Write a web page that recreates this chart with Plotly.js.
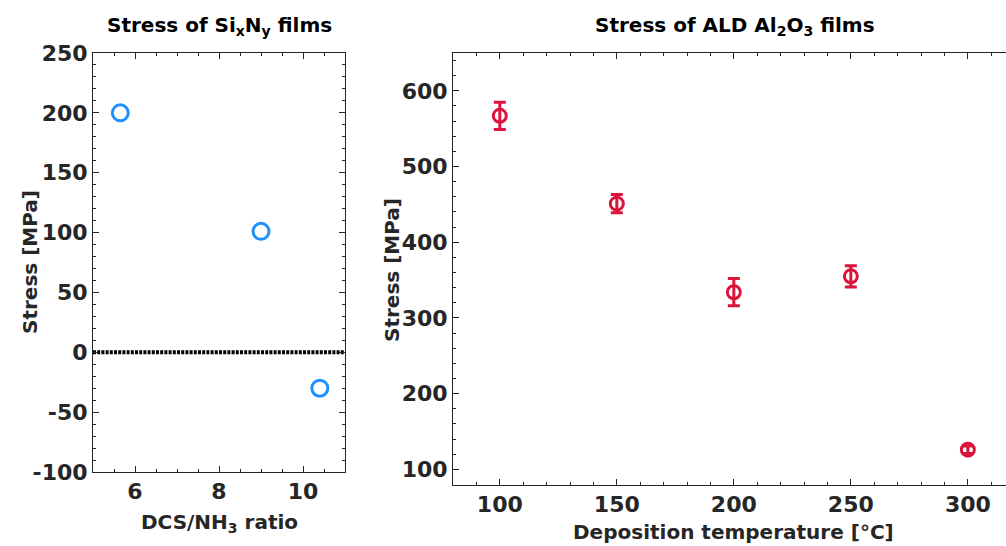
<!DOCTYPE html>
<html>
<head>
<meta charset="utf-8">
<script src="https://cdn.plot.ly/plotly-2.35.2.min.js"></script>
<style>
html,body{margin:0;padding:0;background:#fff;}
#chart{width:1006px;height:546px;}
</style>
</head>
<body>
<div id="chart"></div>
<script>
// Left panel: SixNy film stress
const sinRatio = [5.65, 9.0, 10.4];
const sinStress = [200, 101, -30];
const zeroLineX = [5, 11];
const zeroLineY = [0, 0];
const sinXTicks = [6, 8, 10];
const sinYTicks = [-100, -50, 0, 50, 100, 150, 200, 250];
const sinYTickText = ['-100', '-50', '0', '50', '100', '150', '200', '250'];

// Right panel: ALD Al2O3 film stress
const alTemp = [100, 150, 200, 250, 300];
const alStress = [567, 451, 334, 355, 126];
const alError = [18, 12, 18, 14, 5];
const alXTicks = [100, 150, 200, 250, 300];
const alYTicks = [100, 200, 300, 400, 500, 600];

const FONT = '"DejaVu Sans", sans-serif';
const TICKCOL = '#262626';
const tickFont = {family: FONT, size: 22, color: TICKCOL, weight: 'bold'};
const titleFont = {family: FONT, size: 20, color: TICKCOL, weight: 'bold'};

const traces = [
  {
    x: zeroLineX, y: zeroLineY, xaxis: 'x', yaxis: 'y', type: 'scatter', mode: 'lines',
    line: {color: '#000', width: 4, dash: '3px,1.2px'}, hoverinfo: 'skip', showlegend: false
  },
  {
    x: sinRatio, y: sinStress, xaxis: 'x', yaxis: 'y', type: 'scatter', mode: 'markers',
    marker: {symbol: 'circle-open', size: 16, color: 'rgb(30,144,255)', line: {width: 3, color: 'rgb(30,144,255)'}},
    showlegend: false
  },
  {
    x: alTemp, y: alStress, xaxis: 'x2', yaxis: 'y2', type: 'scatter', mode: 'markers',
    error_y: {type: 'data', array: alError, visible: true, color: 'rgb(220,20,60)', thickness: 3, width: 6},
    marker: {symbol: 'circle-open', size: 13, color: 'rgb(220,20,60)', line: {width: 3, color: 'rgb(220,20,60)'}},
    showlegend: false
  }
];

function axisBase() {
  return {
    showgrid: false, zeroline: false, showline: true, linecolor: TICKCOL, linewidth: 1,
    ticks: 'inside', ticklen: 6, tickwidth: 1, tickcolor: TICKCOL,
    tickfont: tickFont, mirror: 'allticks'
  };
}

const layout = {
  width: 1006, height: 546,
  margin: {l: 0, r: 0, t: 0, b: 0},
  paper_bgcolor: '#fff', plot_bgcolor: '#fff',
  showlegend: false,
  xaxis: Object.assign(axisBase(), {
    domain: [93/1006, 345/1006], range: [5, 11], tickvals: sinXTicks, anchor: 'y',
    minor: {dtick: 0.5, ticks: 'inside', ticklen: 3, tickcolor: TICKCOL}
  }),
  yaxis: Object.assign(axisBase(), {
    domain: [(546-472)/546, (546-53)/546], range: [-100, 250], tickvals: sinYTicks, ticktext: sinYTickText, anchor: 'x',
    minor: {dtick: 10, ticks: 'inside', ticklen: 3, tickcolor: TICKCOL}
  }),
  xaxis2: Object.assign(axisBase(), {
    domain: [453/1006, 1], range: [80, 316.3], tickvals: alXTicks, anchor: 'y2',
    minor: {dtick: 10, ticks: 'inside', ticklen: 3, tickcolor: TICKCOL}
  }),
  yaxis2: Object.assign(axisBase(), {
    domain: [(546-484.5)/546, (546-53)/546], range: [80, 650], tickvals: alYTicks, anchor: 'x2',
    mirror: false,
    minor: {dtick: 20, ticks: 'inside', ticklen: 3, tickcolor: TICKCOL}
  }),
  annotations: [
    {text: 'Stress of Si<sub>x</sub>N<sub>y</sub> films', xref: 'paper', yref: 'paper',
     x: 219/1006, y: 1 - 26/546, xanchor: 'center', yanchor: 'middle', showarrow: false,
     font: {family: FONT, size: 20, color: '#000', weight: 'bold'}},
    {text: 'Stress of ALD Al<sub>2</sub>O<sub>3</sub> films', xref: 'paper', yref: 'paper',
     x: 735/1006, y: 1 - 26/546, xanchor: 'center', yanchor: 'middle', showarrow: false,
     font: {family: FONT, size: 20, color: '#000', weight: 'bold'}},
    {text: 'Stress [MPa]', xref: 'paper', yref: 'paper', textangle: -90,
     x: 30/1006, y: 1 - 262/546, xanchor: 'center', yanchor: 'middle', showarrow: false,
     font: titleFont},
    {text: 'Stress [MPa]', xref: 'paper', yref: 'paper', textangle: -90,
     x: 392/1006, y: 1 - 270/546, xanchor: 'center', yanchor: 'middle', showarrow: false,
     font: titleFont},
    {text: 'DCS/NH<sub>3</sub> ratio', xref: 'paper', yref: 'paper',
     x: 219/1006, y: 1 - 523/546, xanchor: 'center', yanchor: 'middle', showarrow: false,
     font: titleFont},
    {text: 'Deposition temperature [°C]', xref: 'paper', yref: 'paper',
     x: 733/1006, y: 0, xanchor: 'center', yanchor: 'bottom', showarrow: false,
     font: titleFont}
  ]
};

Plotly.newPlot('chart', traces, layout, {displayModeBar: false, staticPlot: true});
</script>
</body>
</html>
